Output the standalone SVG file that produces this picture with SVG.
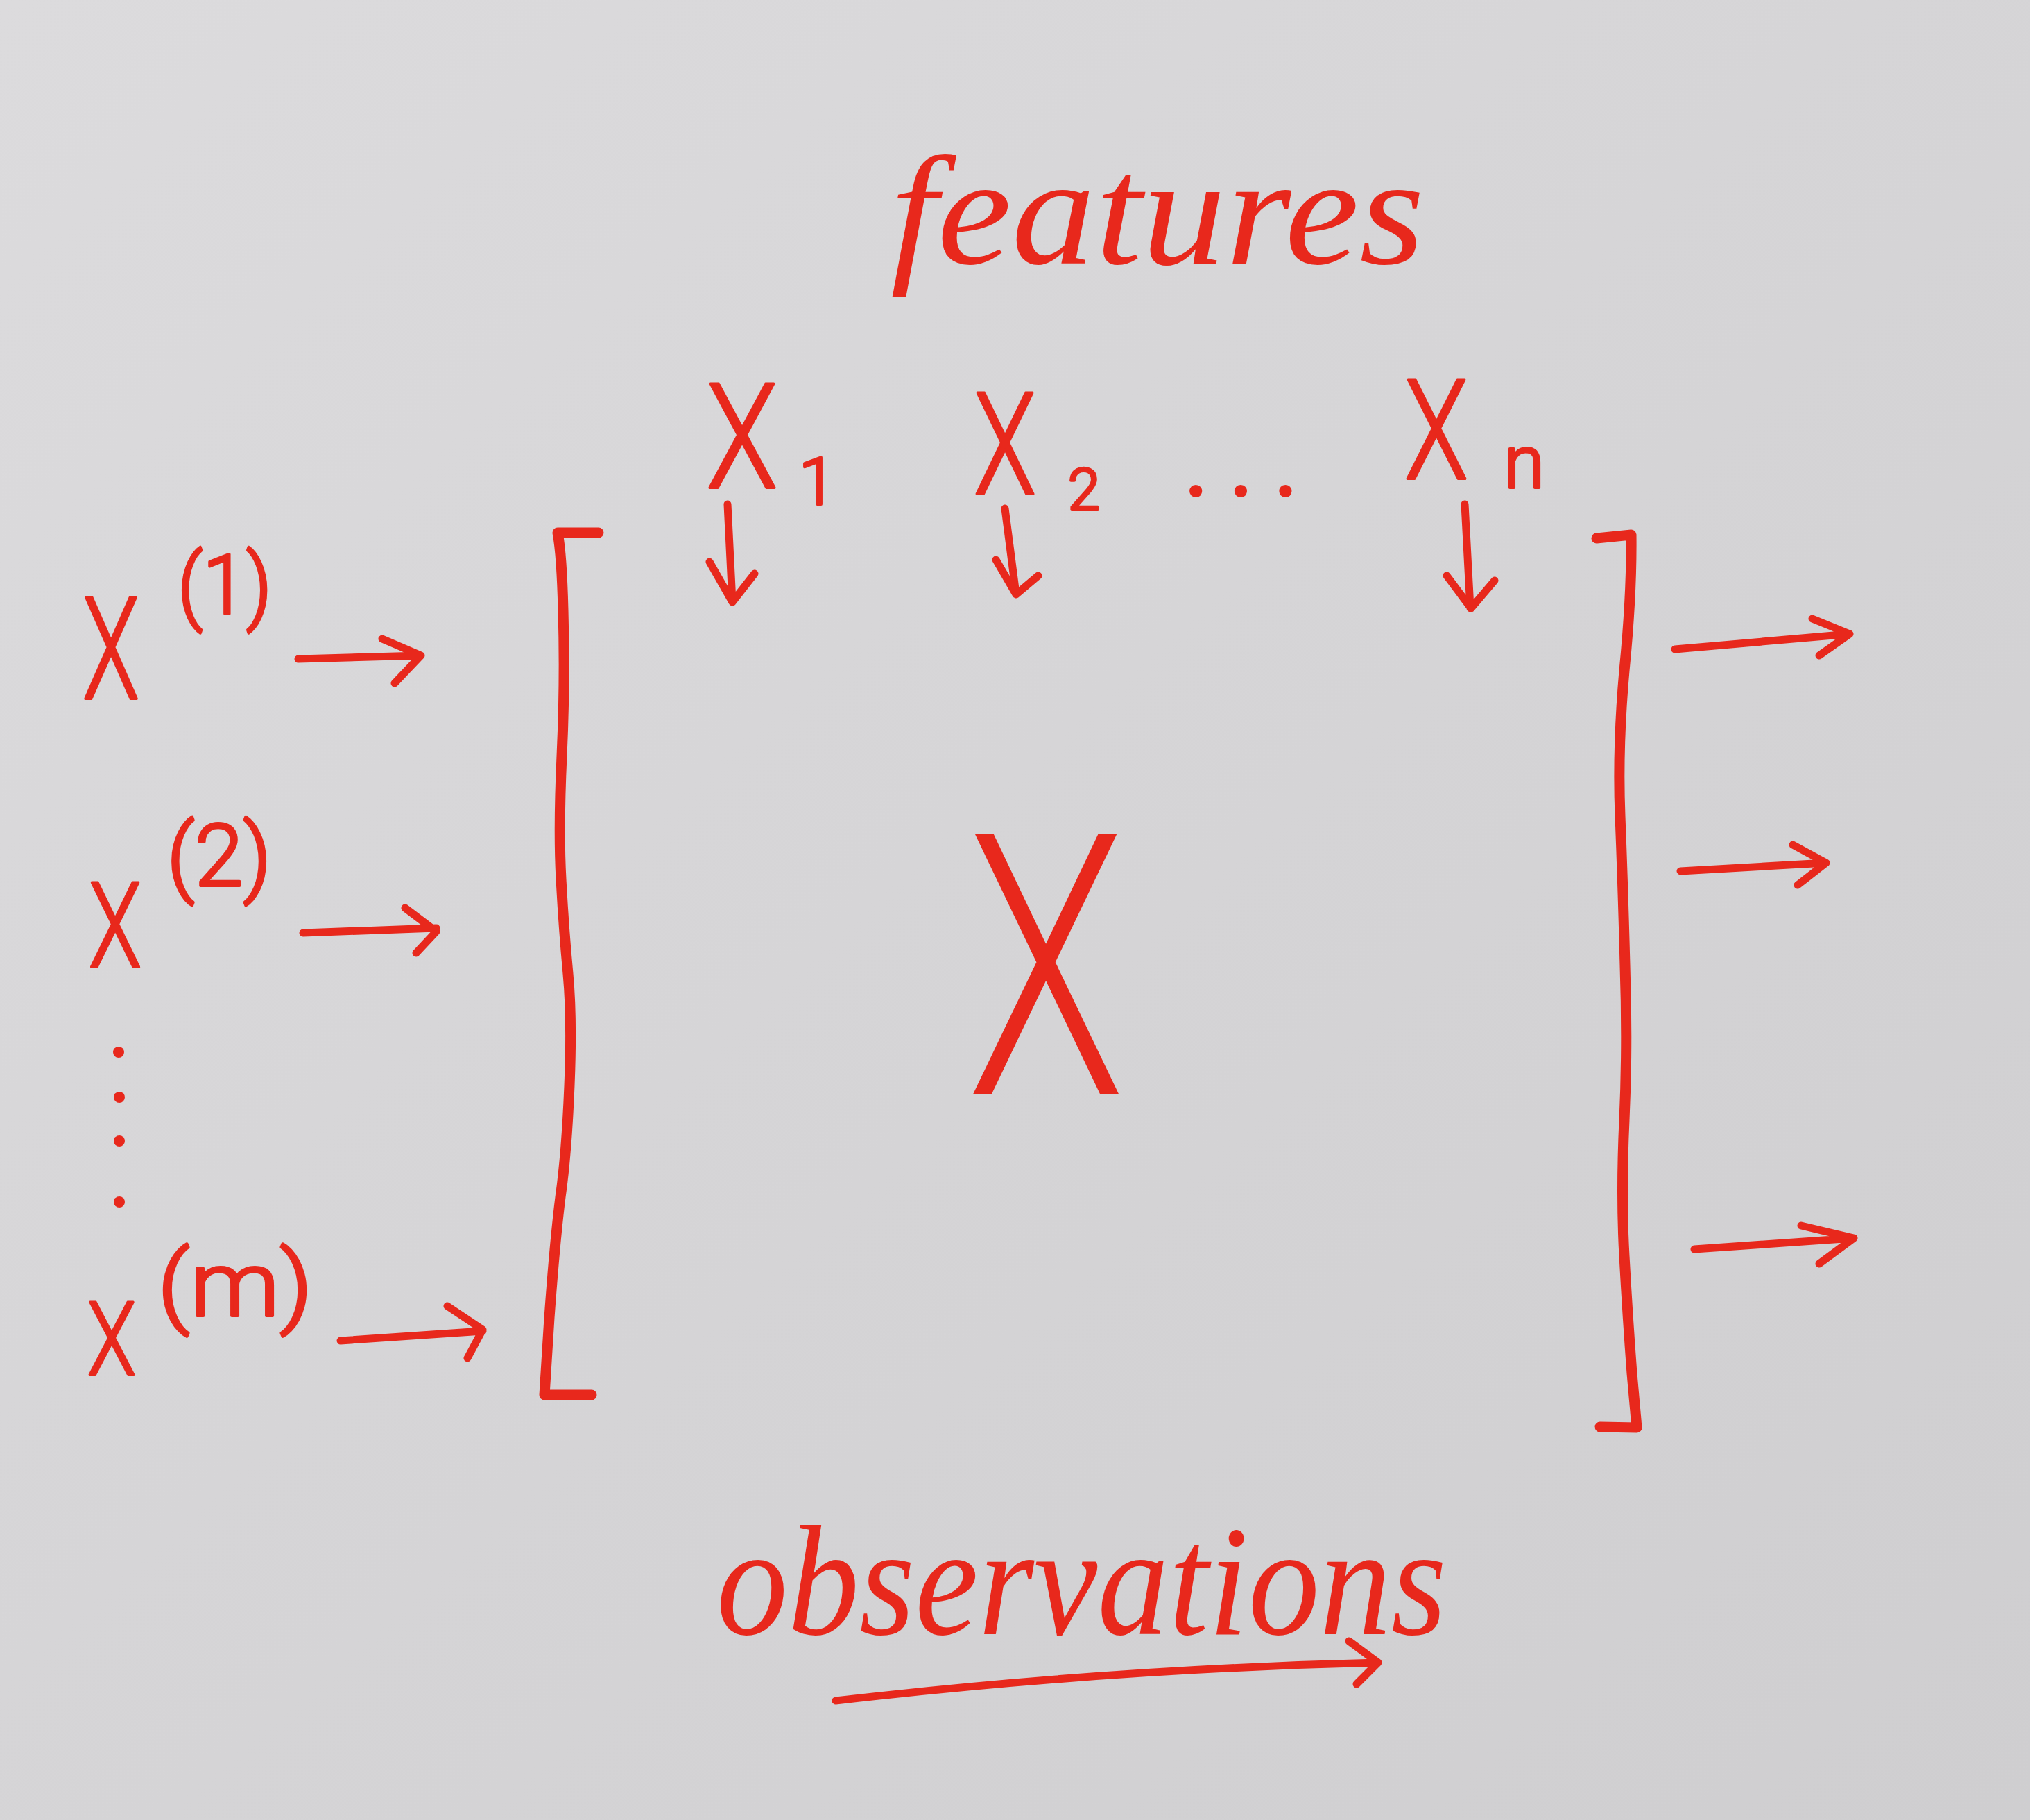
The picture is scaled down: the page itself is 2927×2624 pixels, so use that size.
<svg xmlns="http://www.w3.org/2000/svg" width="2927" height="2624" viewBox="0 0 2927 2624">
<defs>
<linearGradient id="paper" x1="0" y1="0" x2="1" y2="1">
<stop offset="0" stop-color="#dcdbdd"/>
<stop offset="1" stop-color="#cfced0"/>
</linearGradient>
<style>
.ink{fill:none;stroke:#e8281c;stroke-width:11;stroke-linecap:round;stroke-linejoin:round}
.br{stroke-width:15}
.lbl{fill:#e8281c;stroke:#e8281c;stroke-width:4;stroke-linejoin:round;font-family:Roboto,"DejaVu Sans","Liberation Sans",sans-serif;font-weight:300;text-anchor:middle}
.big{stroke-width:0}
.hand{fill:#e8281c;font-family:"Liberation Serif","DejaVu Serif",serif;font-style:italic;font-weight:400}
.dot{fill:#e8281c}
</style>
</defs>
<rect width="2927" height="2624" fill="url(#paper)"/>

<g id="title-features">
<text class="hand" x="1284" y="380" font-size="224" textLength="770" lengthAdjust="spacingAndGlyphs">features</text>
</g>

<g id="feature-x1">
<text class="lbl" x="1070" y="703" font-size="210" textLength="103" lengthAdjust="spacingAndGlyphs">X</text>
<text class="lbl" x="1178" y="727" font-size="95">1</text>
</g>
<g id="feature-x2">
<text class="lbl" x="1449" y="712" font-size="204" textLength="90" lengthAdjust="spacingAndGlyphs">X</text>
<text class="lbl" x="1563" y="735" font-size="84">2</text>
</g>
<g id="feature-dots">
<text class="lbl" x="1790" y="714" font-size="170" font-weight="700" textLength="170" lengthAdjust="spacing">...</text>
</g>
<g id="feature-xn">
<text class="lbl" x="2071" y="690" font-size="200" textLength="92" lengthAdjust="spacingAndGlyphs">X</text>
<text class="lbl" x="2198" y="703" font-size="106">n</text>
</g>

<g id="obs-x1">
<text class="lbl" x="160" y="1007" font-size="204" textLength="82" lengthAdjust="spacingAndGlyphs">X</text>
<text class="lbl" x="324" y="885" font-size="120" textLength="136" lengthAdjust="spacingAndGlyphs">(1)</text>
</g>
<g id="obs-x2">
<text class="lbl" x="166" y="1394" font-size="170" textLength="76" lengthAdjust="spacingAndGlyphs">X</text>
<text class="lbl" x="316" y="1277" font-size="125" textLength="151" lengthAdjust="spacingAndGlyphs">(2)</text>
</g>
<g id="obs-dots">
<circle class="dot" cx="171" cy="1517" r="8"/>
<circle class="dot" cx="172" cy="1582" r="8"/>
<circle class="dot" cx="172" cy="1645" r="8"/>
<circle class="dot" cx="172" cy="1733" r="8"/>
</g>
<g id="obs-xm">
<text class="lbl" x="161" y="1982" font-size="146" textLength="70" lengthAdjust="spacingAndGlyphs">X</text>
<text class="lbl" x="339" y="1897" font-size="130" textLength="224" lengthAdjust="spacingAndGlyphs">(m)</text>
</g>

<g id="matrix-X">
<path class="ink br" d="M863,768 L804,768 Q810,800 812,880 Q815,984 810,1090 Q805,1196 809,1268 Q813,1341 819,1404 Q825,1468 821,1565 Q817,1663 808,1726 Q800,1790 792,1900 L785,2011 L853,2011"/>
<path class="ink br" d="M2302,776 L2352,771 Q2353,856 2342,967 Q2332,1079 2336,1177 Q2340,1276 2343,1392 Q2347,1508 2342,1615 Q2337,1722 2342,1811 Q2347,1901 2353,1980 L2360,2058 L2307,2057"/>
<text class="lbl big" x="1508" y="1577" font-size="526" textLength="230" lengthAdjust="spacingAndGlyphs">X</text>
</g>

<g id="title-observations">
<text class="hand" x="1033" y="2356" font-size="226" textLength="1053" lengthAdjust="spacingAndGlyphs">observations</text>
</g>

<g id="connectors">
<path class="ink" d="M1049,727 L1056,868 M1023,810 L1056,868 L1088,827"/>
<path class="ink" d="M1449,733 L1465,857 M1436,807 L1465,857 L1497,830"/>
<path class="ink" d="M2112,727 L2120,877 M2086,830 L2121,877 L2155,837"/>
<path class="ink" d="M430,950 L607,945 M551,921 L607,945 L569,985"/>
<path class="ink" d="M437,1345 L629,1338 M584,1309 L629,1343 L600,1374"/>
<path class="ink" d="M491,1933 L696,1919 M645,1883 L696,1917 L674,1958"/>
<path class="ink" d="M2415,936 L2667,914 M2613,892 L2667,914 L2623,945"/>
<path class="ink" d="M2423,1256 L2633,1244 M2585,1218 L2633,1244 L2592,1276"/>
<path class="ink" d="M2443,1801 L2673,1785 M2597,1767 L2673,1785 L2623,1822"/>
<path class="ink" d="M1205,2452 C1480,2420 1740,2403 1987,2397 M1945,2366 L1987,2397 L1956,2428"/>
</g>
</svg>
